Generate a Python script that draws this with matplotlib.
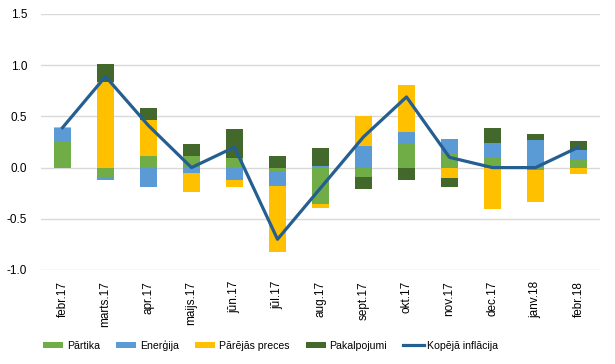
import matplotlib.pyplot as plt
import numpy as np

months = ["febr.17", "marts.17", "apr.17", "maijs.17", "jūn.17", "jūl.17", "aug.17",
          "sept.17", "okt.17", "nov.17", "dec.17", "janv.18", "febr.18"]

partika = [0.25, -0.095, 0.115, 0.11, 0.09, -0.03, -0.355, -0.095, 0.23, 0.13, 0.095, -0.026, 0.078]
energija = [0.14, -0.026, -0.19, -0.055, -0.124, -0.15, 0.016, 0.21, 0.118, 0.147, 0.144, 0.268, 0.09]
parejas = [0.01, 0.84, 0.35, -0.186, -0.07, -0.64, -0.04, 0.294, 0.46, -0.105, -0.40, -0.314, -0.065]
pakalpojumi = [0.0, 0.17, 0.12, 0.12, 0.285, 0.11, 0.173, -0.114, -0.124, -0.088, 0.147, 0.06, 0.088]
inflacija = [0.39, 0.89, 0.41, 0.0, 0.2, -0.7, -0.2, 0.3, 0.69, 0.1, 0.0, 0.0, 0.2]

COLORS = ["#70AD47", "#5B9BD5", "#FFC000", "#43682B"]
LINE_COLOR = "#255E91"

plt.rcParams["font.family"] = ["Liberation Sans", "DejaVu Sans"]

fig = plt.figure(figsize=(6.15, 3.64), dpi=100)
ax = fig.add_axes([41 / 615, 1 - 270 / 364, 559 / 615, 256 / 364])

x = np.arange(len(months))
pos_base = np.zeros(len(months))
neg_base = np.zeros(len(months))
series = [("Pārtika", partika), ("Enerģija", energija),
          ("Pārējās preces", parejas), ("Pakalpojumi", pakalpojumi)]
handles = []
for (name, vals), color in zip(series, COLORS):
    vals = np.array(vals)
    base = np.where(vals >= 0, pos_base, neg_base)
    h = ax.bar(x, vals, 0.4, bottom=base, color=color, label=name, zorder=2)
    handles.append(h)
    pos_base += np.clip(vals, 0, None)
    neg_base += np.clip(vals, None, 0)

line, = ax.plot(x, inflacija, color=LINE_COLOR, linewidth=2.3, label="Kopējā inflācija", zorder=3)
handles.append(line)

ax.set_xlim(-0.5, len(months) - 0.5)
ax.set_ylim(-1.0, 1.5)
yt = np.arange(-1.0, 1.51, 0.5)
ax.set_yticks(yt)
ax.set_yticklabels([f"{v:.1f}" for v in yt], fontsize=8.5)
ax.set_xticks(x)
ax.set_xticklabels(months, rotation=90, fontsize=8.5)
ax.tick_params(length=0, pad=8)
ax.tick_params(axis="y", pad=10)
ax.grid(axis="y", color="#D9D9D9", linewidth=1, zorder=0)
ax.set_axisbelow(True)
for s in ax.spines.values():
    s.set_visible(False)

fig.legend(handles=handles, loc="center left", bbox_to_anchor=(43 / 615, 1 - 345 / 364),
           ncol=5, frameon=False, borderpad=0, borderaxespad=0,
           fontsize=7.6, handlelength=1.9, handleheight=0.5, handletextpad=0.35,
           columnspacing=1.55)

fig.savefig("out.png", dpi=100)
